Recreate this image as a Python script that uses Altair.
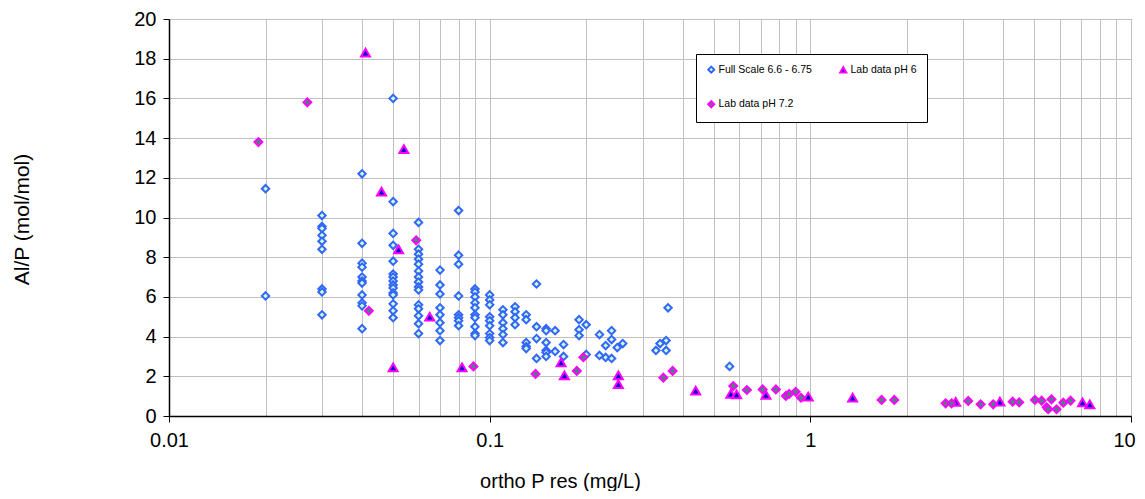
import altair as alt
import pandas as pd

# ---------------- data ----------------
series_names = ["Full Scale 6.6 - 6.75", "Lab data pH 6", "Lab data pH 7.2"]

full_x = [0.02, 0.02,
          0.03, 0.03, 0.03, 0.03, 0.03, 0.03, 0.03, 0.03, 0.03,
          0.04, 0.04, 0.04, 0.04, 0.04, 0.04, 0.04, 0.04, 0.04, 0.04, 0.04,
          0.05, 0.05, 0.05, 0.05, 0.05, 0.05, 0.05, 0.05, 0.05, 0.05, 0.05, 0.05, 0.05, 0.05, 0.05,
          0.06, 0.06, 0.06, 0.06, 0.06, 0.06, 0.06, 0.06, 0.06, 0.06, 0.06, 0.06, 0.06, 0.06, 0.06,
          0.07, 0.07, 0.07, 0.07, 0.07, 0.07, 0.07, 0.07,
          0.08, 0.08, 0.08, 0.08, 0.08, 0.08, 0.08, 0.08,
          0.09, 0.09, 0.09, 0.09, 0.09, 0.09, 0.09, 0.09, 0.09, 0.09,
          0.1, 0.1, 0.1, 0.1, 0.1, 0.1, 0.1, 0.1, 0.1,
          0.11, 0.11, 0.11, 0.11, 0.11, 0.11,
          0.12, 0.12, 0.12, 0.12,
          0.13, 0.13, 0.13, 0.13, 0.13,
          0.14, 0.14, 0.14, 0.14,
          0.15, 0.15, 0.15, 0.15, 0.15, 0.15,
          0.16, 0.16,
          0.17, 0.17,
          0.19, 0.19, 0.19,
          0.20, 0.20,
          0.22, 0.22,
          0.23, 0.23,
          0.24, 0.24, 0.24,
          0.25, 0.26,
          0.33, 0.34, 0.355, 0.355, 0.36,
          0.56]
full_y = [11.45, 6.05,
          10.1, 9.55, 9.45, 9.1, 8.8, 8.4, 6.4, 6.25, 5.1,
          12.2, 8.7, 7.7, 7.5, 7.0, 6.8, 6.7, 6.1, 5.7, 5.55, 4.4,
          16.0, 10.8, 9.2, 8.6, 7.8, 7.15, 7.0, 6.8, 6.6, 6.45, 6.2, 6.1, 5.65, 5.3, 4.95,
          9.75, 8.4, 8.15, 7.9, 7.65, 7.3, 7.0, 6.75, 6.5, 6.35, 5.6, 5.4, 5.05, 4.65, 4.15,
          7.35, 6.6, 6.15, 5.45, 5.1, 4.7, 4.3, 3.8,
          10.35, 8.1, 7.65, 6.05, 5.1, 4.95, 4.8, 4.55,
          6.4, 6.25, 6.0, 5.7, 5.45, 5.1, 4.95, 4.5, 4.15, 4.05,
          6.1, 5.85, 5.6, 5.0, 4.8, 4.55, 4.15, 3.95, 3.8,
          5.35, 5.1, 4.7, 4.4, 4.1, 3.7,
          5.5, 5.25, 4.95, 4.6,
          5.1, 4.85, 3.7, 3.5, 3.4,
          6.65, 4.5, 3.9, 2.9,
          4.4, 4.3, 3.7, 3.3, 3.2, 3.0,
          4.3, 3.25,
          3.6, 3.0,
          4.85, 4.35, 4.05,
          4.6, 3.1,
          4.1, 3.05,
          3.55, 2.95,
          4.3, 3.85, 2.9,
          3.45, 3.65,
          3.3, 3.65, 3.8, 3.3, 5.45,
          2.5]

ph6_x = [0.041, 0.054, 0.046, 0.052, 0.065, 0.05, 0.082, 0.167, 0.171, 0.252, 0.252,
         0.439, 0.565, 0.589, 0.727, 0.985, 1.355, 2.84, 3.90, 7.06, 7.44]
ph6_y = [18.3, 13.45, 11.3, 8.4, 5.0, 2.45, 2.45, 2.7, 2.05, 2.05, 1.6,
         1.28, 1.11, 1.09, 1.06, 0.97, 0.92, 0.71, 0.72, 0.69, 0.59]

ph72_x = [0.019, 0.027, 0.059, 0.042, 0.089, 0.139, 0.187, 0.196, 0.348, 0.372,
          0.575, 0.634, 0.71, 0.781, 0.839, 0.859, 0.90, 0.935, 1.668, 1.827,
          2.642, 2.757, 3.108, 3.397, 3.718, 4.274, 4.48, 5.016, 5.263, 5.455,
          5.52, 5.65, 5.86, 6.15, 6.48]
ph72_y = [13.8, 15.8, 8.85, 5.3, 2.5, 2.12, 2.27, 2.96, 1.93, 2.27,
          1.51, 1.31, 1.34, 1.34, 1.01, 1.11, 1.22, 0.92, 0.81, 0.81,
          0.64, 0.64, 0.76, 0.59, 0.59, 0.72, 0.69, 0.81, 0.77, 0.44,
          0.34, 0.84, 0.34, 0.67, 0.77]

x_ticks = [0.01, 0.02, 0.03, 0.04, 0.05, 0.06, 0.07, 0.08, 0.09,
           0.1, 0.2, 0.3, 0.4, 0.5, 0.6, 0.7, 0.8, 0.9,
           1, 2, 3, 4, 5, 6, 7, 8, 9, 10]
x_labels = [0.01, 0.1, 1, 10]
y_ticks = [0, 2, 4, 6, 8, 10, 12, 14, 16, 18, 20]

# legend entries are laid out column by column: Full Scale / pH 7.2 | pH 6
legend_order = ["Full Scale 6.6 - 6.75", "Lab data pH 7.2", "Lab data pH 6"]
style = {
    "Full Scale 6.6 - 6.75": ("diamond", "#3366FF", "#CCFFCC"),
    "Lab data pH 6": ("triangle-up", "#FF00FF", "#0000CC"),
    "Lab data pH 7.2": ("diamond", "#FF00FF", "#3A8F72"),
}
mark_sizes = {"Full Scale 6.6 - 6.75": 55, "Lab data pH 6": 80, "Lab data pH 7.2": 62}
shapes = [style[s][0] for s in legend_order]
strokes = [style[s][1] for s in legend_order]
fills = [style[s][2] for s in legend_order]

# ---------------- table ----------------
rows = []
for name, xs, ys in zip(series_names, [full_x, ph6_x, ph72_x], [full_y, ph6_y, ph72_y]):
    for a, b in zip(xs, ys):
        rows.append({"series": name, "x": a, "y": b})
df = pd.DataFrame(rows)

major_test = "indexof(%s, datum.value) >= 0" % str(x_labels)

# trailing no-break spaces widen the legend frame on the right, as in the original
pad_text = "\u00a0" * 11
legend = alt.Legend(
    title=None, orient="none", legendX=527, legendY=35, columns=2,
    columnPadding=24, rowPadding=20, padding=10,
    strokeColor="black", fillColor="white",
    labelFont="Liberation Sans", labelFontSize=10.5, labelColor="black",
    symbolSize=36, symbolStrokeWidth=2, labelOffset=2,
    labelExpr="datum.label == 'Lab data pH 6' ? datum.label + '" + pad_text + "' : datum.label",
)

base = alt.Chart(df).encode(
    x=alt.X("x:Q",
            scale=alt.Scale(type="log", domain=[0.01, 10], nice=False),
            axis=alt.Axis(
                title="ortho P res (mg/L)", values=x_ticks,
                labelExpr=major_test + " ? toString(datum.value) : ''",
                labelOverlap=False, labelFlush=False,
                labelOffset={"condition": {"test": "datum.value == 10", "value": -7}, "value": 0},
                tickOpacity={"condition": {"test": major_test, "value": 1}, "value": 0},
                tickSize=6, labelPadding=8,
                titleX=391, titleY=65, titleAlign="center", titleBaseline="middle",
                titleFontSize=20,
            )),
    y=alt.Y("y:Q",
            scale=alt.Scale(domain=[0, 20], nice=False),
            axis=alt.Axis(
                title="Al/P (mol/mol)", values=y_ticks, tickSize=6, labelPadding=7,
                titleX=-147, titleY=200, titleAngle=-90,
                titleAlign="center", titleBaseline="middle",
                titleFontSize=21,
            )),
    shape=alt.Shape("series:N", scale=alt.Scale(domain=legend_order, range=shapes), legend=legend),
    stroke=alt.Stroke("series:N", scale=alt.Scale(domain=legend_order, range=strokes), legend=legend),
    fill=alt.Fill("series:N", scale=alt.Scale(domain=legend_order, range=fills), legend=legend),
)

layers = [
    base.transform_filter(alt.datum.series == name).mark_point(
        filled=True, opacity=1, strokeWidth=2, size=mark_sizes[name])
    for name in series_names
]

chart = alt.layer(*layers).properties(
    width=962, height=397,
    autosize=alt.AutoSizeParams(type="none"),
    padding={"left": 161, "top": 11, "right": 5, "bottom": 75},
).configure_view(
    stroke="#808080", strokeWidth=1
).configure_axis(
    grid=True, gridColor="#C0C0C0", gridWidth=1,
    domainColor="black", domainWidth=1.5, tickColor="black",
    labelFont="Liberation Sans", labelFontSize=20, labelColor="black",
    titleFont="Liberation Sans", titleFontWeight="normal", titleColor="black",
)

chart.save("out.html", embed_options={"renderer": "svg", "actions": False})
